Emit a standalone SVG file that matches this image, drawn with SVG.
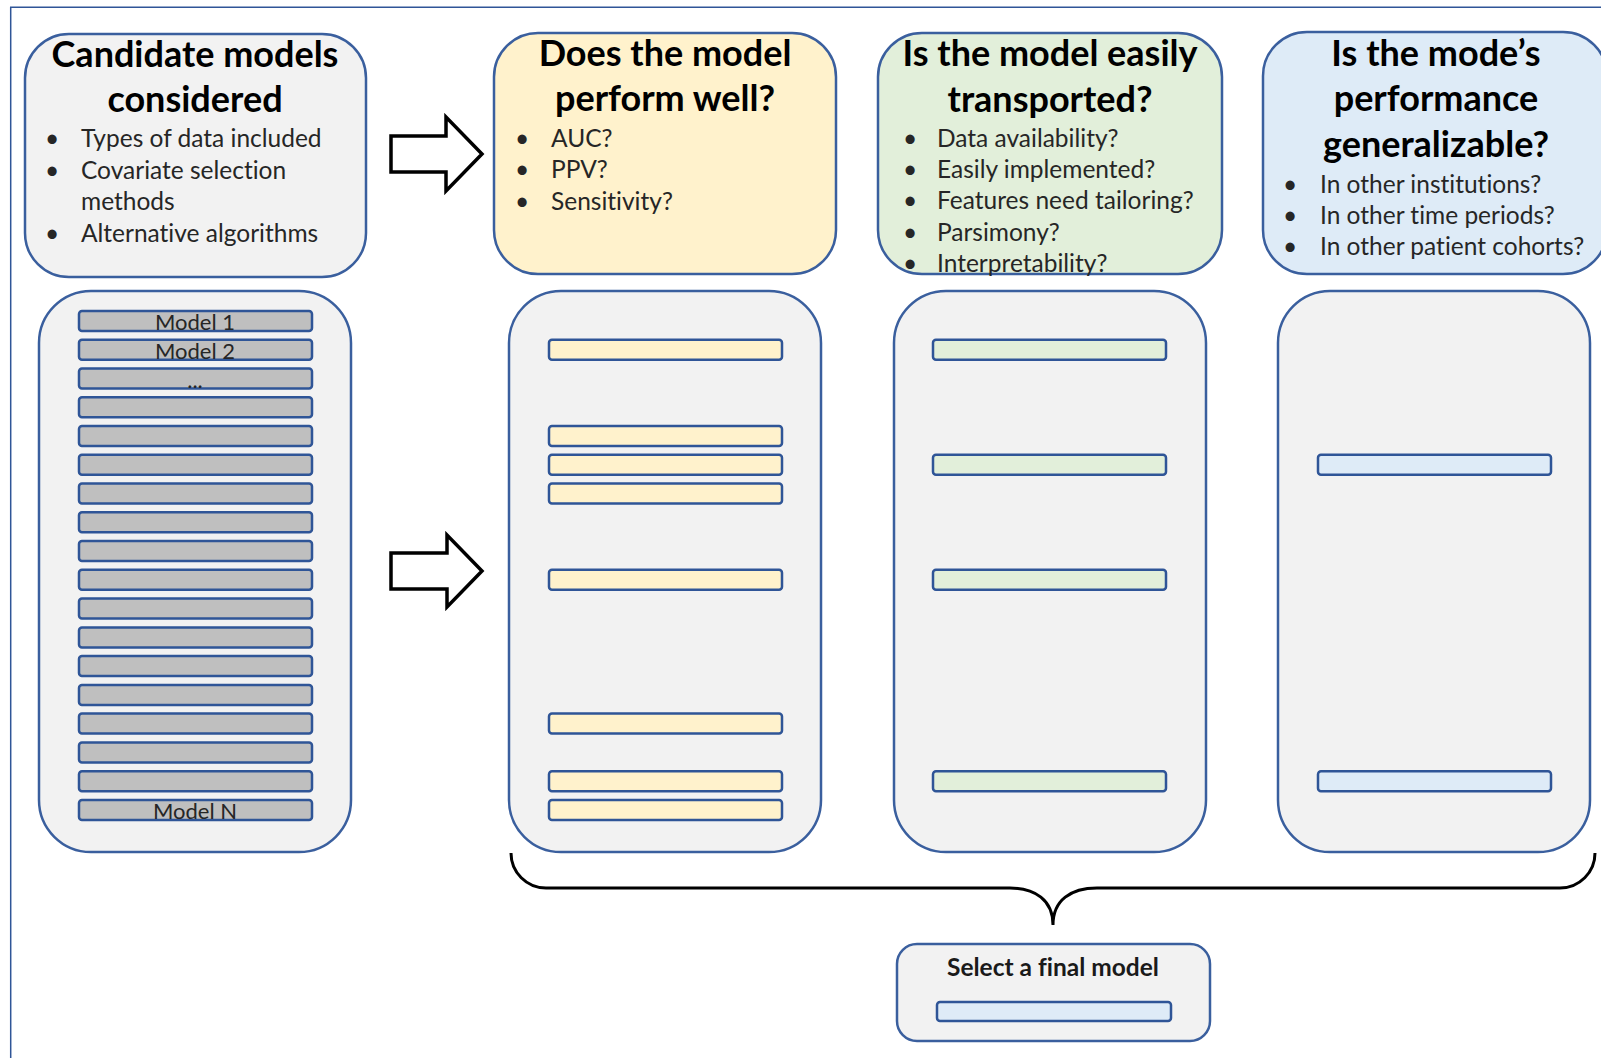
<svg xmlns="http://www.w3.org/2000/svg" width="1601" height="1058" viewBox="0 0 1601 1058">
<style>
.frame{fill:none;stroke:#2F5597;stroke-width:1.5}
.box{stroke:#3A5F9E;stroke-width:2.5}
.gray{fill:#F2F2F2}
.yel{fill:#FFF2CC}
.grn{fill:#E2EFDA}
.blu{fill:#DEEBF7}
.bar{stroke:#2F5597;stroke-width:2.5}
.gbar{fill:#BFBFBF}
text{font-variant-ligatures:none}
.title{font-family:Lato,"Liberation Sans",sans-serif;font-weight:bold;font-size:36px;fill:#000;text-anchor:middle}
.body{font-family:Lato,"Liberation Sans",sans-serif;font-size:24.5px;fill:#262626}
.mlabel{font-family:Lato,"Liberation Sans",sans-serif;font-size:22px;fill:#262626;text-anchor:middle}
.sel{font-family:Lato,"Liberation Sans",sans-serif;font-weight:bold;font-size:24.5px;fill:#1a1a1a;text-anchor:middle}
.arrow{fill:#fff;stroke:#000;stroke-width:3.5;stroke-linejoin:miter}
.brace{fill:none;stroke:#000;stroke-width:3}
</style>
<rect width="1601" height="1058" fill="#fff"/>
<path class="frame" d="M10.7 1058 V7.3 H1601"/>

<g id="candidates">
<rect class="box gray" x="25" y="34" width="341" height="243" rx="44"/>
<text class="title" x="195" y="67">Candidate models</text>
<text class="title" x="195" y="112">considered</text>
<g class="body">
<text x="45" y="147">•</text><text x="81" y="147">Types of data included</text>
<text x="45" y="179">•</text><text x="81" y="179">Covariate selection</text>
<text x="81" y="210">methods</text>
<text x="45" y="242">•</text><text x="81" y="242">Alternative algorithms</text>
</g>
</g>

<g id="perform">
<rect class="box yel" x="494" y="33" width="342" height="241" rx="44"/>
<text class="title" x="665" y="66">Does the model</text>
<text class="title" x="665" y="111">perform well?</text>
<g class="body">
<text x="515" y="147">•</text><text x="551" y="147">AUC?</text>
<text x="515" y="178">•</text><text x="551" y="178">PPV?</text>
<text x="515" y="210">•</text><text x="551" y="210">Sensitivity?</text>
</g>
</g>

<g id="transport">
<rect class="box grn" x="878" y="33" width="344" height="241" rx="44"/>
<text class="title" x="1050" y="66">Is the model easily</text>
<text class="title" x="1050" y="112">transported?</text>
<g class="body">
<text x="903" y="147">•</text><text x="937" y="147">Data availability?</text>
<text x="903" y="178">•</text><text x="937" y="178">Easily implemented?</text>
<text x="903" y="209">•</text><text x="937" y="209">Features need tailoring?</text>
<text x="903" y="241">•</text><text x="937" y="241">Parsimony?</text>
<text x="903" y="272">•</text><text x="937" y="272">Interpretability?</text>
</g>
</g>

<g id="generalize">
<rect class="box blu" x="1263" y="32" width="344" height="242" rx="44"/>
<text class="title" x="1436" y="66">Is the mode’s</text>
<text class="title" x="1436" y="111">performance</text>
<text class="title" x="1436" y="157">generalizable?</text>
<g class="body">
<text x="1283" y="193">•</text><text x="1320" y="193">In other institutions?</text>
<text x="1283" y="224">•</text><text x="1320" y="224">In other time periods?</text>
<text x="1283" y="255">•</text><text x="1320" y="255">In other patient cohorts?</text>
</g>
</g>

<g id="model-list">
<rect class="box gray" x="39" y="291" width="312" height="561" rx="52"/>
<g class="bar gbar">
<rect x="79" y="311" width="233" height="20" rx="3"/>
<rect x="79" y="339.8" width="233" height="20" rx="3"/>
<rect x="79" y="368.5" width="233" height="20" rx="3"/>
<rect x="79" y="397.3" width="233" height="20" rx="3"/>
<rect x="79" y="426" width="233" height="20" rx="3"/>
<rect x="79" y="454.8" width="233" height="20" rx="3"/>
<rect x="79" y="483.6" width="233" height="20" rx="3"/>
<rect x="79" y="512.3" width="233" height="20" rx="3"/>
<rect x="79" y="541.1" width="233" height="20" rx="3"/>
<rect x="79" y="569.8" width="233" height="20" rx="3"/>
<rect x="79" y="598.6" width="233" height="20" rx="3"/>
<rect x="79" y="627.4" width="233" height="20" rx="3"/>
<rect x="79" y="656.1" width="233" height="20" rx="3"/>
<rect x="79" y="684.9" width="233" height="20" rx="3"/>
<rect x="79" y="713.6" width="233" height="20" rx="3"/>
<rect x="79" y="742.4" width="233" height="20" rx="3"/>
<rect x="79" y="771.2" width="233" height="20" rx="3"/>
<rect x="79" y="800" width="233" height="20" rx="3"/>
</g>
<text class="mlabel" x="195" y="330">Model 1</text>
<text class="mlabel" x="195" y="359">Model 2</text>
<text class="mlabel" x="195" y="388">...</text>
<text class="mlabel" x="195" y="819">Model N</text>
</g>

<g id="perform-list">
<rect class="box gray" x="509" y="291" width="312" height="561" rx="52"/>
<g class="bar yel">
<rect x="549" y="339.8" width="233" height="20" rx="3"/>
<rect x="549" y="426" width="233" height="20" rx="3"/>
<rect x="549" y="454.8" width="233" height="20" rx="3"/>
<rect x="549" y="483.6" width="233" height="20" rx="3"/>
<rect x="549" y="569.8" width="233" height="20" rx="3"/>
<rect x="549" y="713.6" width="233" height="20" rx="3"/>
<rect x="549" y="771.2" width="233" height="20" rx="3"/>
<rect x="549" y="800" width="233" height="20" rx="3"/>
</g>
</g>

<g id="transport-list">
<rect class="box gray" x="894" y="291" width="312" height="561" rx="52"/>
<g class="bar grn">
<rect x="933" y="339.8" width="233" height="20" rx="3"/>
<rect x="933" y="454.8" width="233" height="20" rx="3"/>
<rect x="933" y="569.8" width="233" height="20" rx="3"/>
<rect x="933" y="771.2" width="233" height="20" rx="3"/>
</g>
</g>

<g id="generalize-list">
<rect class="box gray" x="1278" y="291" width="312" height="561" rx="52"/>
<g class="bar blu">
<rect x="1318" y="454.8" width="233" height="20" rx="3"/>
<rect x="1318" y="771.2" width="233" height="20" rx="3"/>
</g>
</g>

<g id="final">
<rect class="box gray" x="897" y="944" width="313" height="97" rx="20"/>
<text class="sel" x="1053" y="976">Select a final model</text>
<rect class="bar blu" x="937" y="1002" width="234" height="19" rx="3"/>
</g>

<g id="connectors">
<polygon class="arrow" points="391,136 446,136 446,117 482,154 446,191 446,172 391,172"/>
<polygon class="arrow" points="391,553 447,553 447,535 482,571 447,607 447,589 391,589"/>
<path class="brace" d="M511 853 A35 35 0 0 0 546 888 H1010 C1035 888 1053 900 1053 925 C1053 900 1071 888 1097 888 H1560 A35 35 0 0 0 1595 853"/>
</g>
</svg>
